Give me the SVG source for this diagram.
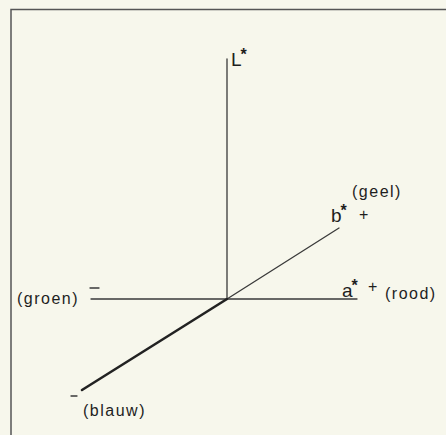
<svg xmlns="http://www.w3.org/2000/svg" width="446" height="435" viewBox="0 0 446 435">
<style>
.ax{stroke:#3a3a3a;stroke-width:1.3;fill:none;stroke-linecap:round}
.thick{stroke:#222;stroke-width:2.6;fill:none;stroke-linecap:round}
.lbl{font-family:"Liberation Sans",Arial,sans-serif;font-size:16px;letter-spacing:1.5px;fill:#1e1e1e}
.var{font-family:"Liberation Sans",Arial,sans-serif;font-size:19px;fill:#1e1e1e}
.st{font-size:16px;font-weight:bold}
.sg{font-family:"Liberation Sans",Arial,sans-serif;font-size:16px;fill:#1e1e1e}
</style>
<rect width="446" height="435" fill="#f7f7ec"/>
<path d="M11 435 V9.5 H446" stroke="#555" stroke-width="1.5" fill="none"/>
<g id="connectors">
<line class="ax" x1="227" y1="59" x2="227" y2="299"/>
<line class="ax" x1="91" y1="299" x2="357" y2="299"/>
<line class="ax" x1="227" y1="299" x2="339" y2="228"/>
<line class="thick" x1="227" y1="299" x2="82" y2="390"/>
</g>
<g id="L-axis"><text class="var" x="231" y="66">L<tspan class="st" dx="-1" dy="-6">*</tspan></text></g>
<g id="b-axis">
<text class="var" x="331" y="222">b<tspan class="st" dx="-1" dy="-6">*</tspan></text>
<text class="sg" x="359" y="220">+</text>
<text class="lbl" x="352" y="197">(geel)</text>
</g>
<g id="a-axis">
<text class="var" x="342" y="297">a<tspan class="st" dx="-1" dy="-6">*</tspan></text>
<text class="sg" x="368" y="292">+</text>
<text class="lbl" x="385" y="299">(rood)</text>
</g>
<g id="groen">
<text class="lbl" x="17" y="304">(groen)</text>
<line class="ax" x1="90" y1="288" x2="99" y2="288"/>
</g>
<g id="blauw">
<line class="ax" x1="71" y1="396" x2="77" y2="396"/>
<text class="lbl" x="83" y="416">(blauw)</text>
</g>
</svg>
